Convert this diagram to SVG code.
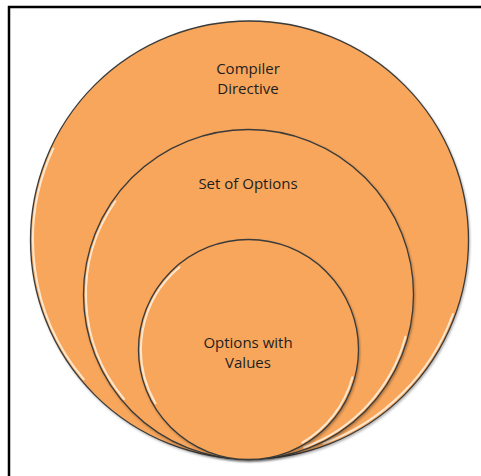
<svg xmlns="http://www.w3.org/2000/svg" width="481" height="476" viewBox="0 0 481 476">
<style>
.c{fill:#F7A65B;stroke:#3a3a3a;stroke-width:1.3}
.hl{fill:none;stroke:#FFF3E3;stroke-width:2;stroke-linecap:round;opacity:0.85;filter:url(#bl)}
.t{font-family:"Open Sans",Lato,sans-serif;font-size:15px;fill:#1e1e1e;text-anchor:middle}
</style>
<defs>
<filter id="sh" x="-10%" y="-10%" width="120%" height="120%">
<feDropShadow dx="1" dy="1.5" stdDeviation="1.2" flood-color="#000" flood-opacity="0.3"/>
</filter>
<filter id="bl" x="-10%" y="-10%" width="120%" height="120%">
<feGaussianBlur stdDeviation="0.5"/>
</filter>
</defs>
<rect x="0" y="0" width="481" height="476" fill="#fff"/>
<path d="M9 476V7H481" fill="none" stroke="#000" stroke-width="2.5"/>
<g id="outer">
<circle class="c" cx="249.5" cy="240" r="219" filter="url(#sh)"/>
<path class="hl" d="M83.7 379.2 A216.5 216.5 0 0 1 53.3 148.5"/>
<path class="hl" d="M323.5 443.4 A216.5 216.5 0 0 0 452.9 314"/>
<text class="t" x="248" y="74">Compiler</text>
<text class="t" x="248" y="94">Directive</text>
</g>
<g id="middle">
<circle class="c" cx="248.5" cy="294.5" r="165" filter="url(#sh)"/>
<path class="hl" d="M124 399 A162.5 162.5 0 0 1 115.4 201.3"/>
<path class="hl" d="M304.1 447.2 A162.5 162.5 0 0 0 405.5 336.6"/>
<text class="t" x="248" y="189">Set of Options</text>
</g>
<g id="inner">
<circle class="c" cx="248.5" cy="349.5" r="110" filter="url(#sh)"/>
<path class="hl" d="M155.4 403.3 A107.5 107.5 0 0 1 179.4 267.2"/>
<path class="hl" d="M302.3 442.6 A107.5 107.5 0 0 0 352.3 377.3"/>
<text class="t" x="248" y="348">Options with</text>
<text class="t" x="248" y="368">Values</text>
</g>
</svg>
